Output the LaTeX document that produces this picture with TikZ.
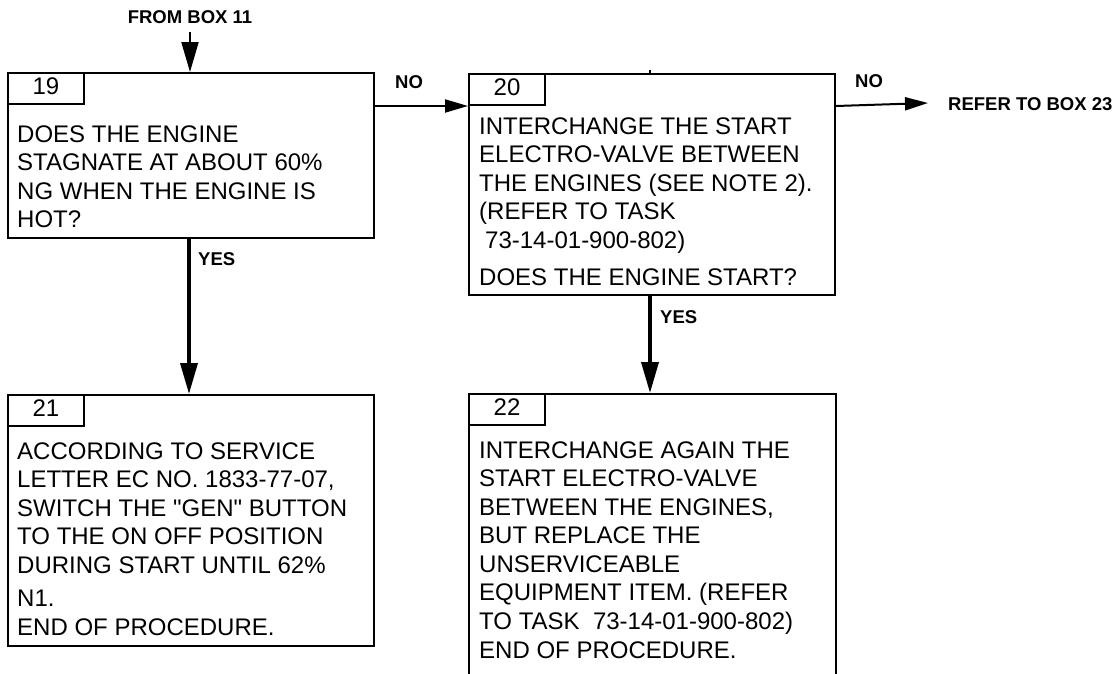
\documentclass[tikz,border=0pt]{standalone}
\usepackage{fontspec}
\setmainfont{Liberation Sans}
\usetikzlibrary{arrows.meta}
\tikzset{
  box/.style={draw, line width=2pt, anchor=north west, inner sep=0pt},
  tab/.style={draw, line width=2pt, anchor=north west, inner sep=0pt,
    minimum width=76pt, minimum height=31pt, text height=17pt, text depth=5pt,
    font=\fontsize{24}{28.5}\selectfont},
  body/.style={anchor=north west, inner sep=0pt, align=left,
    font=\fontsize{24}{28.5}\selectfont},
  lbl/.style={inner sep=0pt, font=\bfseries\fontsize{18.5}{21}\selectfont},
  varr/.style={line width=3.6pt, -{Triangle[length=31pt,width=17pt]}},
  tarr/.style={line width=2pt, -{Triangle[length=30pt,width=17pt]}},
  harr/.style={line width=2pt, -{Triangle[length=23pt,width=13pt]}},
}
\begin{document}
\begin{tikzpicture}[x=1pt,y=-1pt]
\useasboundingbox (0,0) rectangle (1116,673);
\fill[white] (0,0) rectangle (1116,673);
\clip (0,0) rectangle (1116,673);

% boxes
\node[box, minimum width=366pt, minimum height=165pt] (b19) at (7,72) {};
\node[box, minimum width=366pt, minimum height=221pt] (b20) at (468,73) {};
\node[box, minimum width=366pt, minimum height=251pt] (b21) at (7,394) {};
\node[box, minimum width=367pt, minimum height=320pt] (b22) at (468,393) {};

% tabs
\node[tab] (t19) at (7,72) {19};
\node[tab] (t20) at (468,73) {20};
\node[tab] (t21) at (7,394) {21};
\node[tab] (t22) at (468,393) {22};

% texts
\node[body] (x19) at (17,122) {\rule{0pt}{20pt}DOES THE ENGINE\\STAGNATE AT ABOUT 60\%\\NG WHEN THE ENGINE IS\\HOT?};
\node[body] (x20) at (479,114) {\rule{0pt}{20pt}INTERCHANGE THE START\\ELECTRO-VALVE BETWEEN\\THE ENGINES (SEE NOTE 2).\\(REFER TO TASK\\\hspace*{6pt}73-14-01-900-802)\\[8.5pt]DOES THE ENGINE START?};
\node[body] (x21) at (17,439) {\rule{0pt}{20pt}ACCORDING TO SERVICE\\LETTER EC NO. 1833-77-07,\\SWITCH THE \textquotedbl GEN\textquotedbl\ BUTTON\\TO THE ON OFF POSITION\\DURING START UNTIL 62\%\\[5pt]N1.\\END OF PROCEDURE.};
\node[body] (x22) at (479,438) {\rule{0pt}{20pt}INTERCHANGE AGAIN THE\\START ELECTRO-VALVE\\BETWEEN THE ENGINES,\\BUT REPLACE THE\\UNSERVICEABLE\\EQUIPMENT ITEM. (REFER\\TO TASK\ \ 73-14-01-900-802)\\[0.5pt]END OF PROCEDURE.};

% labels
\node[lbl, anchor=base] (lfrom) at (190,23) {FROM BOX 11};
\node[lbl, anchor=base west] (lno1) at (395,88) {NO};
\node[lbl, anchor=base west] (lyes1) at (198,265) {YES};
\node[lbl, anchor=base west] (lyes2) at (660,323) {YES};
\node[lbl, anchor=base west] (lno2) at (855,87) {NO};
\node[lbl, anchor=base west] (l23) at (948,110) {REFER TO BOX 23};

% connectors
\coordinate (top) at (190,32);
\coordinate (e23) at (928,103);
\draw[tarr] (top) -- (top |- b19.north);
\draw[harr] (t20.south west -| b19.east) -- (t20.south west);
\draw[harr] (t20.south west -| b20.east) -- (e23);
\draw[varr] (b19.south -| 189,0) -- (b21.north -| 189,0);
\draw[varr] (b20.south -| 650,0) -- (b22.north -| 650,0);
\draw[line width=1.5pt] (b20.north -| 650,0) -- ++(0,-3);
\end{tikzpicture}
\end{document}
